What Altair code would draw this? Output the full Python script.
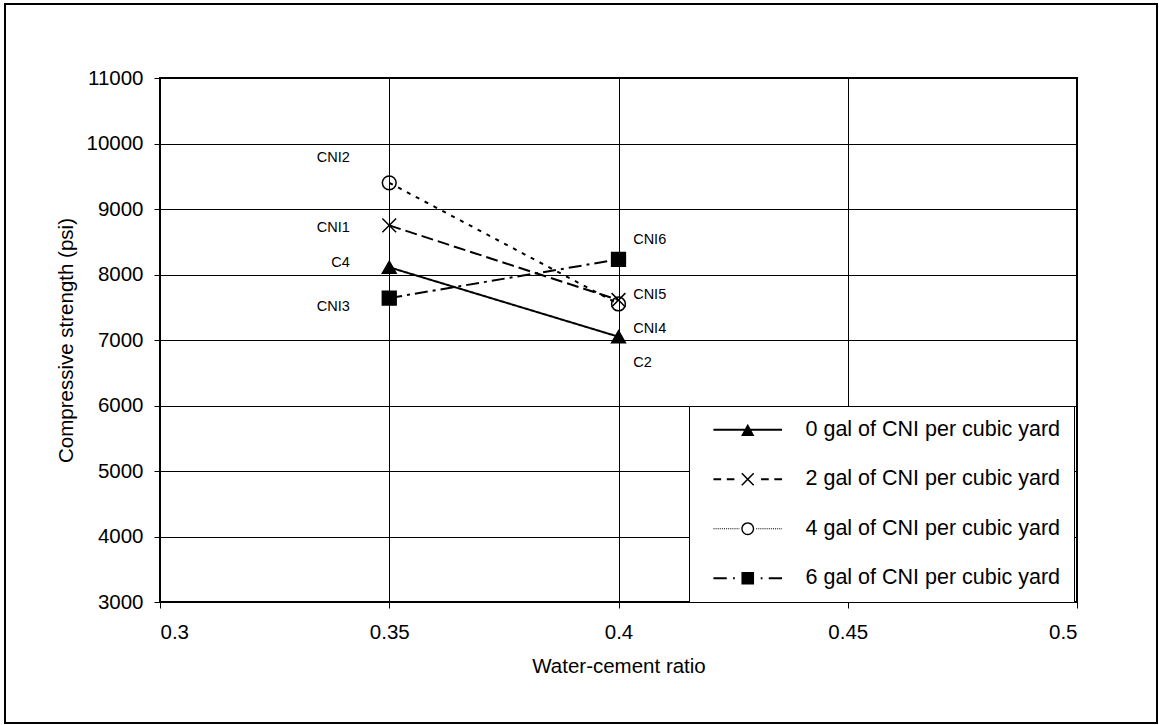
import altair as alt
import pandas as pd

# ---- data ----
series = ["0 gal of CNI per cubic yard", "2 gal of CNI per cubic yard",
          "4 gal of CNI per cubic yard", "6 gal of CNI per cubic yard"]
wc_ratio = [0.35, 0.40]
strength_0 = [8110, 7050]
strength_2 = [8750, 7610]
strength_4 = [9400, 7550]
strength_6 = [7640, 8230]

label_text = ["CNI2", "CNI1", "C4", "CNI3", "CNI6", "CNI5", "CNI4", "C2"]
label_wc = [0.3414, 0.3414, 0.3414, 0.3414, 0.4032, 0.4032, 0.4032, 0.4032]
label_strength = [9780, 8710, 8180, 7500, 8530, 7690, 7170, 6650]

x_ticks = [0.3, 0.35, 0.4, 0.45, 0.5]
y_ticks = [3000, 4000, 5000, 6000, 7000, 8000, 9000, 10000, 11000]

# ---- tables ----
rows = []
for s, vals in zip(series, [strength_0, strength_2, strength_4, strength_6]):
    for w, v in zip(wc_ratio, vals):
        rows.append({"series": s, "wc": w, "strength": v})
df = pd.DataFrame(rows)
labels = pd.DataFrame({"label": label_text, "wc": label_wc, "strength": label_strength})

FONT = "Liberation Sans"

# ---- styles ----
dashes = [[1, 0], [12, 5], [4, 6], [13, 5, 3, 5]]
marker_shapes = ["triangle-up", "M-1,-1L1,1M-1,1L1,-1", "circle", "square"]
marker_fills = ["black", "transparent", "transparent", "black"]

# legend glyphs: line sample + marker drawn as one filled symbol (units of 7 px)
def bars(pairs, h=0.14):
    return "".join(f"M{a:.2f},{-h:.2f}H{b:.2f}V{h:.2f}H{a:.2f}Z" for a, b in pairs)

def dotted(a, b, step=0.3, dot=0.15):
    out = []
    t = a
    while t < b - 1e-9:
        out.append((t, min(t + dot, b)))
        t += step
    return out

TRI = "M0,-0.85L0.95,0.9L-0.95,0.9Z"
XSH = ("M-0.928,-0.772L0.772,0.928L0.928,0.772L-0.772,-0.928Z"
       "M-0.772,0.928L0.928,-0.772L0.772,-0.928L-0.928,0.772Z")
RING = ("M-0.92,0A0.92,0.92 0 1,1 0.92,0A0.92,0.92 0 1,1 -0.92,0Z"
        "M-0.72,0A0.72,0.72 0 1,0 0.72,0A0.72,0.72 0 1,0 -0.72,0Z")
SQ = "M-0.9,-0.9H0.9V0.9H-0.9Z"
glyphs = [
    bars([(-4.9, 4.9)]) + TRI,
    bars([(-4.9, -3.8), (-3.0, -1.9), (1.9, 3.0), (3.8, 4.9)]) + XSH,
    bars(dotted(-4.9, -1.2) + dotted(1.2, 4.9), h=0.08) + RING,
    bars([(-4.9, -3.0), (-2.1, -1.85), (1.85, 2.1), (3.0, 4.9)]) + SQ,
]

xscale = alt.Scale(domain=[0.3, 0.5], nice=False, zero=False)
yscale = alt.Scale(domain=[3000, 11000], nice=False, zero=False)

xaxis = alt.Axis(values=x_ticks, format=".2~f", title="Water-cement ratio",
                 grid=True, domain=False, tickSize=6, labelPadding=14,
                 titlePadding=14)
yaxis = alt.Axis(values=y_ticks, format="d", title="Compressive strength (psi)",
                 grid=True, domain=False, tickSize=6, labelPadding=11,
                 titlePadding=9)

glyph_legend = alt.Legend(
    title=None, orient="none", legendX=529, legendY=328,
    symbolSize=196, symbolStrokeWidth=1.5, symbolStrokeColor="black",
    symbolFillColor="black", symbolOpacity=1, symbolOffset=35,
    labelFont=FONT, labelFontSize=21.5, labelColor="black", labelOffset=47,
    labelLimit=400, padding=13, rowPadding=26.5,
    strokeColor="black", fillColor="white")

lines = alt.Chart(df).mark_line(color="black", strokeWidth=2).encode(
    x=alt.X("wc:Q", scale=xscale, axis=xaxis),
    y=alt.Y("strength:Q", scale=yscale, axis=yaxis),
    strokeDash=alt.StrokeDash("series:N", sort=series, scale=alt.Scale(range=dashes),
                              legend=None),
)

point_layers = []
for s, shp, fl in zip(series, marker_shapes, marker_fills):
    point_layers.append(
        alt.Chart(df).transform_filter(alt.datum.series == s).mark_point(
            shape=shp, fill=fl, filled=True, size=190, stroke="black",
            strokeWidth=1.5, opacity=1
        ).encode(x=alt.X("wc:Q", scale=xscale), y=alt.Y("strength:Q", scale=yscale))
    )

legend_layer = alt.Chart(df).mark_point(
    opacity=0, filled=False, fill="black", stroke="black", strokeWidth=1.5, size=196
).encode(
    x=alt.X("wc:Q", scale=xscale),
    y=alt.Y("strength:Q", scale=yscale),
    shape=alt.Shape("series:N", sort=series, scale=alt.Scale(range=glyphs),
                    legend=glyph_legend),
)

left_labels = alt.Chart(labels).transform_filter("datum.wc < 0.375").mark_text(
    align="right", baseline="middle", font=FONT, fontSize=14.5, color="black"
).encode(x=alt.X("wc:Q", scale=xscale), y=alt.Y("strength:Q", scale=yscale), text="label:N")

right_labels = alt.Chart(labels).transform_filter("datum.wc >= 0.375").mark_text(
    align="left", baseline="middle", font=FONT, fontSize=14.5, color="black"
).encode(x=alt.X("wc:Q", scale=xscale), y=alt.Y("strength:Q", scale=yscale), text="label:N")

frame = alt.Chart(pd.DataFrame({"f": [0]})).mark_rect(
    filled=False, stroke="black", strokeWidth=2
).encode(x=alt.value(-155), x2=alt.value(997), y=alt.value(-74), y2=alt.value(645))

chart = alt.layer(lines, *point_layers, legend_layer, left_labels, right_labels, frame).properties(
    width=917, height=524,
    autosize=alt.AutoSizeParams(type="none"),
    padding={"left": 160, "top": 78, "right": 82, "bottom": 123},
    background="white",
).configure_view(
    stroke="black", strokeWidth=2
).configure_axis(
    labelFont=FONT, titleFont=FONT, labelFontSize=20.5, titleFontSize=20.5,
    labelColor="black", titleColor="black", titleFontWeight="normal",
    tickColor="black", tickWidth=1, gridColor="black", gridWidth=1, gridOpacity=1,
)

chart.save("out.html", embed_options={"renderer": "svg", "actions": False})
